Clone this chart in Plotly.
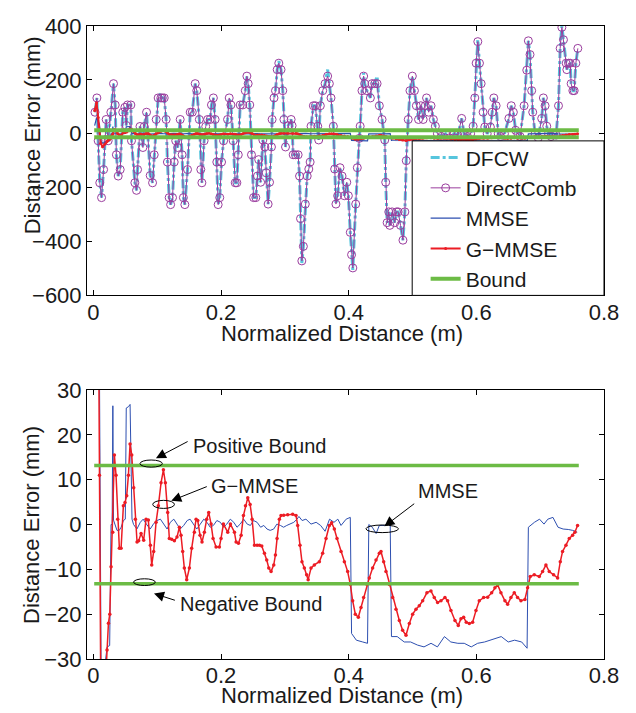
import plotly.graph_objects as go

# DirectComb samples (normalized distance m, error mm)
dc_x = [0.0025, 0.0055, 0.0075, 0.010, 0.0128, 0.016, 0.020, 0.0232, 0.0274, 0.0315,
        0.0342, 0.036, 0.0389, 0.042, 0.046, 0.0493, 0.0515, 0.0535, 0.0587, 0.0597,
        0.065, 0.0676, 0.0692, 0.073, 0.0776, 0.0797, 0.0833, 0.089, 0.0927, 0.0953,
        0.0984, 0.1015, 0.1057, 0.108, 0.111, 0.114, 0.116, 0.1187, 0.121, 0.124,
        0.1266, 0.129, 0.132, 0.136, 0.139, 0.141, 0.1433, 0.1475, 0.1517, 0.155,
        0.1595, 0.162, 0.166, 0.1683, 0.170, 0.1735, 0.176, 0.179, 0.183, 0.185,
        0.188, 0.1907, 0.1934, 0.1955, 0.198, 0.2008, 0.204, 0.2102, 0.2128, 0.2155,
        0.219, 0.2222, 0.2248, 0.227, 0.230, 0.234, 0.238, 0.2405, 0.2425, 0.245,
        0.2477, 0.251, 0.2545, 0.257, 0.259, 0.262, 0.2655, 0.2686, 0.2707, 0.2738,
        0.276, 0.279, 0.280, 0.283, 0.2853, 0.288, 0.2905, 0.294, 0.2967, 0.2985,
        0.301, 0.305, 0.3098, 0.3113, 0.313, 0.3166, 0.3208, 0.323, 0.3245, 0.3266,
        0.329, 0.332, 0.335, 0.3375, 0.3396, 0.341, 0.3447, 0.3478, 0.3515, 0.353,
        0.3556, 0.3593, 0.363, 0.367, 0.3697, 0.3723, 0.376, 0.378, 0.380, 0.3827,
        0.3864, 0.3896, 0.3932, 0.397, 0.3995, 0.4025, 0.4045, 0.4065, 0.411, 0.4135,
        0.4166, 0.418, 0.4208, 0.4234, 0.425, 0.4285, 0.434, 0.4366, 0.4408, 0.4445,
        0.448, 0.4523, 0.4565, 0.458, 0.4602, 0.4628, 0.4644, 0.468, 0.4722, 0.475,
        0.4775, 0.4812, 0.485, 0.488, 0.4902, 0.4933, 0.496, 0.4997, 0.503, 0.506,
        0.5094, 0.513, 0.5167, 0.520, 0.522, 0.5253, 0.529, 0.5327, 0.5358, 0.539,
        0.545, 0.552, 0.558, 0.565, 0.571, 0.577, 0.5808, 0.586, 0.591, 0.595,
        0.5976, 0.5997, 0.6023, 0.6049, 0.6075, 0.6106, 0.6132, 0.617, 0.622, 0.6248,
        0.6274, 0.631, 0.6343, 0.638, 0.644, 0.651, 0.6547, 0.658, 0.6615, 0.665,
        0.6685, 0.6748, 0.679, 0.6815, 0.6841, 0.6867, 0.6883, 0.692, 0.697, 0.7024,
        0.705, 0.7077, 0.7103, 0.713, 0.717, 0.7208, 0.725, 0.7287, 0.7313, 0.734,
        0.7365, 0.7407, 0.7418, 0.7444, 0.747, 0.7485, 0.7512, 0.7533, 0.7559, 0.759]
dc_y = [80, 133, -26, -182, -237, -133, 53, -26, 80, 186,
        107, -78, -157, -133, 80, 98, 31, 107, 107, -26,
        -182, -210, -133, 27, -51, 27, 80, -155, -182, -78,
        53, 133, 133, 133, 133, 53, -105, -237, -263, -237,
        -105, -26, -51, 53, -78, -237, -263, -133, 80, 80,
        186, 160, 53, -133, -182, -26, 27, 53, 53, 107,
        133, 53, -105, -263, -237, -105, -26, 53, 133, 107,
        -26, -182, -182, -78, 107, 107, 160, 214, 186, 107,
        -78, -237, -237, -157, -96, -180, -23, -49, -145, -261,
        -180, -49, 53, 133, 160, 238, 262, 238, 160, 53,
        -49, 30, 53, 30, -78, -78, -78, -157, -315, -472,
        -418, -261, -157, -131, -105, 28, 104, 104, 28, -23,
        104, 160, 186, 214, 186, 133, 28, -131, -261, -230,
        -126, -157, -230, -180, -230, -366, -449, -498, -261, -126,
        -17, 28, 160, 214, 186, 160, 133, 186, 186, 186,
        104, 53, -23, -180, -330, -290, -340, -290, -330, -290,
        -290, -340, -395, -290, -100, 53, 160, 214, 160, 104,
        53, 104, 53, 104, 133, 80, 104, 53, 28, 0,
        -10, 0, -15, 0, -5, 57, 0, -10, 0, 28,
        133, 262, 342, 262, 186, 80, 25, 0, 25, 80,
        133, 104, 0, -10, 0, 57, 104, 80, 13, 0,
        -10, 104, 236, 345, 294, 160, 80, 0, -15, 57,
        133, 104, 28, 0, -10, 0, -5, 104, 317, 395,
        349, 262, 238, 262, 262, 186, 160, 160, 262, 317]

# DFCW follows DirectComb except at a few peaks
dfcw_fix_x = [0.1057, 0.2905, 0.3266, 0.367, 0.4065, 0.4234, 0.4445, 0.6023, 0.734]
dfcw_fix_y = [150, 270, -480, 238, -505, 225, 214, 350, 400]

# MMSE
mmse_x = [0.002, 0.005, 0.0095, 0.012, 0.015, 0.0215, 0.0255, 0.0277, 0.0294, 0.0305,
          0.0315, 0.0345, 0.037, 0.0405, 0.0435, 0.047, 0.050, 0.0515, 0.055, 0.0575,
          0.0605, 0.063, 0.0682, 0.0735, 0.078, 0.083, 0.089, 0.094, 0.0995, 0.105,
          0.110, 0.1155, 0.1205, 0.126, 0.131, 0.136, 0.1415, 0.147, 0.1515, 0.157,
          0.162, 0.1675, 0.173, 0.178, 0.183, 0.188, 0.1935, 0.199, 0.204, 0.209,
          0.2145, 0.220, 0.225, 0.230, 0.2355, 0.241, 0.246, 0.251, 0.2565, 0.262,
          0.267, 0.272, 0.277, 0.2825, 0.2875, 0.293, 0.298, 0.303, 0.309, 0.314,
          0.319, 0.322, 0.327, 0.333, 0.341, 0.349, 0.356, 0.363, 0.370, 0.377,
          0.383, 0.388, 0.396, 0.4025, 0.4045, 0.412, 0.422, 0.4295, 0.4315, 0.437,
          0.443, 0.448, 0.456, 0.465, 0.467, 0.476, 0.487, 0.497, 0.508, 0.518,
          0.529, 0.539, 0.550, 0.560, 0.571, 0.581, 0.592, 0.602, 0.613, 0.623,
          0.639, 0.650, 0.660, 0.671, 0.6795, 0.6815, 0.691, 0.699, 0.706, 0.712,
          0.720, 0.728, 0.736, 0.744, 0.751, 0.758]
mmse_y = [30, 60, 35, -30, -35, -27.3, -27, 0, 0, 26.5,
          1, -0.6, -1.3, -1.3, -0.6, 0.9, 1.2, 26, 26.3, 26.8,
          1.2, 0, -1, 0.5, 1.2, 0.1, -1, 0.1, 0.9, 1.2,
          0.1, -1, 0.5, 1.2, 0.1, -1, -0.2, 0.9, 1.2, 0.1,
          -1, 0.1, 1.2, 0.5, -0.6, -0.2, 0.9, 0.5, -0.6, 0.1,
          1.2, 0.5, -0.6, 0.1, 1.2, 0.1, -0.2, 0.9, 0.5, -0.6,
          -0.2, -1, -1.3, -1, 0.1, -0.2, -0.6, -0.2, 0.1, 0.5,
          1.2, 1.8, 0.9, 1.2, 0.1, 0.5, -0.2, -1.5, 1.2, 0.5,
          1.2, -0.2, 1.2, 1.6, -24.3, -25.8, -26.2, -26.5, 0, -0.6,
          -2, -0.2, -0.2, 0.5, -25, -25, -26.2, -26.2, -26.9, -27.3,
          -26.5, -27.3, -25, -26.2, -26.5, -26.5, -27.3, -26.5, -26.2, -25.8,
          -25, -26.2, -25.8, -26.2, -27.6, -0.6, 0.5, 1.2, 0.1, 1.2,
          1.6, -0.6, -1, -1.1, -1.3, -1.7]

# G-MMSE
gm_x = [0.002, 0.005, 0.0075, 0.0095, 0.0115, 0.0144, 0.018, 0.0214, 0.0236, 0.0257,
        0.0277, 0.0303, 0.0329, 0.0355, 0.0381, 0.0407, 0.0434, 0.047, 0.0496, 0.0522,
        0.0549, 0.0575, 0.0601, 0.0632, 0.0658, 0.0684, 0.071, 0.0747, 0.0788, 0.0825,
        0.0861, 0.0893, 0.0914, 0.0945, 0.0982, 0.1018, 0.106, 0.1097, 0.1128, 0.1164,
        0.119, 0.1227, 0.1269, 0.131, 0.1347, 0.1373, 0.1399, 0.1425, 0.1462, 0.1504,
        0.154, 0.1582, 0.1609, 0.1635, 0.1671, 0.1702, 0.1739, 0.1775, 0.1807, 0.1844,
        0.1875, 0.1922, 0.1974, 0.200, 0.2037, 0.2105, 0.2147, 0.221, 0.2236, 0.2273,
        0.2315, 0.2351, 0.2383, 0.2419, 0.2456, 0.2487, 0.2523, 0.2565, 0.2602, 0.2638,
        0.268, 0.2716, 0.2748, 0.2784, 0.2826, 0.2852, 0.2878, 0.2914, 0.294, 0.2982,
        0.3044, 0.3123, 0.3175, 0.3201, 0.3237, 0.3268, 0.3305, 0.3341, 0.3365, 0.341,
        0.3462, 0.354, 0.3592, 0.3645, 0.3697, 0.3733, 0.3775, 0.3817, 0.388, 0.3932,
        0.3984, 0.4026, 0.4062, 0.4104, 0.4151, 0.4193, 0.4234, 0.4287, 0.4323, 0.4375,
        0.4428, 0.448, 0.4506, 0.4548, 0.4584, 0.4637, 0.4689, 0.4741, 0.4793, 0.4845,
        0.4898, 0.495, 0.5002, 0.5054, 0.5106, 0.5159, 0.5226, 0.5289, 0.5341, 0.5393,
        0.5446, 0.5508, 0.555, 0.5602, 0.5665, 0.5717, 0.5759, 0.5801, 0.5842, 0.589,
        0.5942, 0.5994, 0.6046, 0.6114, 0.6177, 0.624, 0.6291, 0.6333, 0.6385, 0.6448,
        0.649, 0.6542, 0.6594, 0.6646, 0.6699, 0.6761, 0.6803, 0.6845, 0.6907, 0.6986,
        0.7038, 0.709, 0.7142, 0.721, 0.7273, 0.7315, 0.7351, 0.7404, 0.7456, 0.7508,
        0.7544, 0.7586]
gm_y = [86, 115, 60, 11, -35, -48, -38, -28, -22, -20,
        -9.4, -1.7, 15.5, 11, 1.2, -5.3, -5.3, 4.2, 4.9, 6.4,
        11, 18, 15.5, 8.2, 1.2, -3.9, -3.6, -2, -3.5, 1.2,
        1.0, -4.6, -9, -6, 0.5, 4.2, 9.3, 12.2, 9.3, 2.7,
        -3.1, -3.3, -3.6, -2.8, -0.6, -2.4, -6, -9.7, -12.3, -9.7,
        -5.3, -1.7, 1.2, 0.9, -2.4, -3.9, -1.7, 1.2, 2.7, 0.1,
        -3.1, -5, -5, -3.1, 0.1, -1.7, 0.1, -1.7, -3.9, -4.2,
        -2.4, 2, 4.2, 6, 4.5, 1.2, -4.6, -4.6, -4.6, -4.8,
        -6.4, -7.9, -9.7, -10.5, -9, -6.8, -3.1, 1.2, 2, 2.1,
        2.2, 2.3, 2, -0.2, -4.6, -8.3, -9.7, -11.2, -12.3, -9.7,
        -9, -8.3, -6.4, -3.1, -0.2, 0.4, -1, -3.1, -6, -8.3,
        -10.5, -13.4, -17, -20, -20.7, -18.5, -16.3, -13.4, -11.9, -9.7,
        -7.9, -6.4, -6, -8.3, -10.5, -13.4, -16.3, -18.9, -21.4, -23.6,
        -24.7, -22.1, -20, -18.9, -18.1, -17, -15.2, -14.8, -16.3, -17.4,
        -17, -16.3, -17, -19.2, -21.4, -22.5, -21, -20.7, -21.8, -22.1,
        -21.8, -19.2, -17, -16.3, -16.2, -15.2, -14.1, -13.4, -15.2, -17,
        -17.8, -16.3, -15.2, -16.3, -17, -16.7, -14.1, -11.6, -11.2, -11.6,
        -10.5, -9, -10.5, -11.2, -11.9, -8.3, -6, -4.6, -3.1, -2.4,
        -1.7, -0.2]

bound_x = [0.0013, 0.7605]
bound_val = 13.2

dfcw_lookup = dict(zip(dfcw_fix_x, dfcw_fix_y))
dfcw_y = [dfcw_lookup.get(x, y) for x, y in zip(dc_x, dc_y)]

c_dfcw = "#56c5dd"
c_dc = "#9a3d9e"
c_mmse = "#2d4fb0"
c_gm = "#ec1c24"
c_bound = "#6cbb45"
font_family = "Liberation Sans, Arial, sans-serif"

fig = go.Figure()

# top panel
fig.add_trace(go.Scatter(x=dc_x, y=dfcw_y, mode="lines", name="DFCW",
                         line=dict(color=c_dfcw, width=3, dash="dashdot")))
fig.add_trace(go.Scatter(x=dc_x, y=dc_y, mode="lines+markers", name="DirectComb",
                         line=dict(color=c_dc, width=1),
                         marker=dict(symbol="circle-open", size=8, color=c_dc,
                                     line=dict(width=1, color=c_dc))))
fig.add_trace(go.Scatter(x=mmse_x, y=mmse_y, mode="lines", name="MMSE",
                         line=dict(color=c_mmse, width=1.2)))
fig.add_trace(go.Scatter(x=gm_x, y=gm_y, mode="lines+markers", name="G\u2212MMSE",
                         line=dict(color=c_gm, width=2),
                         marker=dict(size=3, color=c_gm)))
fig.add_trace(go.Scatter(x=bound_x + [None] + bound_x,
                         y=[bound_val, bound_val, None, -bound_val, -bound_val],
                         mode="lines", name="Bound",
                         line=dict(color=c_bound, width=4)))

# bottom panel
fig.add_trace(go.Scatter(x=mmse_x, y=mmse_y, mode="lines", showlegend=False,
                         line=dict(color=c_mmse, width=1),
                         xaxis="x2", yaxis="y2"))
fig.add_trace(go.Scatter(x=gm_x, y=gm_y, mode="lines+markers", showlegend=False,
                         line=dict(color=c_gm, width=1.5),
                         marker=dict(size=3.5, color=c_gm),
                         xaxis="x2", yaxis="y2"))
fig.add_trace(go.Scatter(x=bound_x + [None] + bound_x,
                         y=[bound_val, bound_val, None, -bound_val, -bound_val],
                         mode="lines", showlegend=False,
                         line=dict(color=c_bound, width=3.5),
                         xaxis="x2", yaxis="y2"))

axis_common = dict(
    showline=True, linecolor="black", linewidth=1, mirror="ticks",
    ticks="inside", ticklen=5, tickcolor="black", showgrid=False, zeroline=False,
    tickfont=dict(size=22, color="#1a1a1a"),
)

shapes = [
    # legend box
    dict(type="rect", xref="paper", yref="paper", x0=0.629, x1=1.0, y0=0.5744, y1=0.8185,
         fillcolor="white", line=dict(color="black", width=1), layer="above"),
]
# ellipses in bottom panel
for x0, x1, y0, y1 in [(0.073, 0.108, 12.8, 14.4), (0.093, 0.127, 3.6, 5.4),
                       (0.063, 0.097, -13.6, -12.1), (0.427, 0.478, -1.8, -0.1)]:
    shapes.append(dict(type="circle", xref="x2", yref="y2", x0=x0, x1=x1, y0=y0, y1=y1,
                       line=dict(color="black", width=1)))

annotations = []
for tip, tail in [((0.098, 14.8), (0.150, 18.7)), ((0.122, 5.3), (0.180, 8.6)),
                  ((0.095, -15.4), (0.130, -17.0)), ((0.456, -0.4), (0.505, 4.9))]:
    annotations.append(dict(x=tip[0], y=tip[1], ax=tail[0], ay=tail[1],
                            xref="x2", yref="y2", axref="x2", ayref="y2",
                            text="", showarrow=True, arrowhead=2, arrowsize=2,
                            arrowwidth=1, arrowcolor="black"))
for txt, x, y in [("Positive Bound", 0.153, 17.6), ("G\u2212MMSE", 0.181, 8.5),
                  ("Negative Bound", 0.133, -17.8), ("MMSE", 0.505, 7.5)]:
    annotations.append(dict(x=x, y=y, xref="x2", yref="y2", text=txt, showarrow=False,
                            xanchor="left", yanchor="middle",
                            font=dict(size=20, color="#1a1a1a")))

# axis titles
for txt, x, y, ang in [("Distance Error (mm)", -0.106, 0.8276, -90),
                       ("Distance Error (mm)", -0.106, 0.212, -90),
                       ("Normalized Distance (m)", 0.494, 0.5135, 0),
                       ("Normalized Distance (m)", 0.494, -0.0575, 0)]:
    annotations.append(dict(x=x, y=y, xref="paper", yref="paper", text=txt,
                            showarrow=False, textangle=ang,
                            xanchor="center", yanchor="middle",
                            font=dict(size=22, color="#1a1a1a")))

# the page body adds an 8px offset, so the figure is 8px smaller
fig.update_layout(
    width=628, height=705,
    margin=dict(l=79, r=32, t=6, b=54),
    paper_bgcolor="white", plot_bgcolor="white",
    font=dict(family=font_family, color="#1a1a1a"),
    xaxis=dict(axis_common, domain=[0, 1], range=[-0.01, 0.8], ticklabelstandoff=-3,
               tickvals=[0, 0.2, 0.4, 0.6, 0.8], anchor="y"),
    yaxis=dict(axis_common, domain=[0.5744, 1], range=[-600, 400],
               tickvals=[-600, -400, -200, 0, 200, 400], anchor="x"),
    xaxis2=dict(axis_common, domain=[0, 1], range=[-0.01, 0.8], ticklabelstandoff=-3,
                tickvals=[0, 0.2, 0.4, 0.6, 0.8], anchor="y2"),
    yaxis2=dict(axis_common, domain=[0, 0.4248], range=[-30, 30],
                tickvals=[-30, -20, -10, 0, 10, 20, 30], anchor="x2"),
    legend=dict(x=0.655, y=0.824, xanchor="left", yanchor="top",
                bgcolor="rgba(0,0,0,0)", borderwidth=0,
                font=dict(size=21, color="#1a1a1a")),
    shapes=shapes,
    annotations=annotations,
    showlegend=True,
)

fig.write_html("out.html")
